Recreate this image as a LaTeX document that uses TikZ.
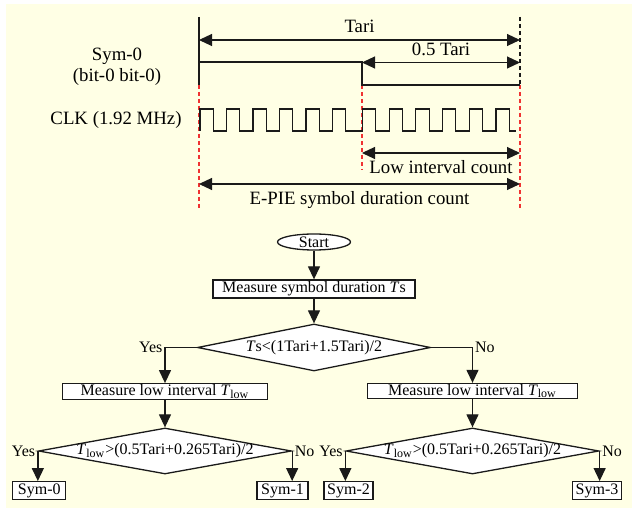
\documentclass[tikz,border=0pt]{standalone}
\usepackage{fontspec}
\setmainfont{Liberation Serif}
\usetikzlibrary{arrows.meta,shapes.geometric}
\definecolor{Cream}{HTML}{FFFFE5}
\definecolor{Guide}{HTML}{F03232}
\definecolor{Ink}{HTML}{1A1A1A}

\begin{document}
\begin{tikzpicture}[x=0.5pt,y=-0.5pt,
  >={Triangle[length=6.5pt,width=6pt]},
  sig/.style={draw=Ink,line width=0.55pt},
  dim/.style={draw=Ink,line width=0.55pt,<->},
  guide/.style={draw=Guide,line width=0.55pt,dash pattern=on 2pt off 1.5pt},
  lbl/.style={font=\fontsize{9.4pt}{11pt}\selectfont},
  box/.style={draw=Ink,fill=white,line width=0.65pt,inner sep=0pt,font=\fontsize{8pt}{9.6pt}\selectfont},
  term/.style={box,ellipse},
  decision/.style={box,diamond},
  flow/.style={draw=Ink,line width=0.65pt,->},
  ans/.style={font=\fontsize{8pt}{9.6pt}\selectfont,inner sep=1pt}
]
\fill[white] (0,0) rectangle (632,512);
\fill[Cream] (6,4) rectangle (632,508);
\useasboundingbox (0,0) rectangle (632,512);

% timing
\node[lbl] (symlbl) at (117,56) {Sym-0};
\node[lbl] (bitlbl) at (117,77) {(bit-0 bit-0)};
\node[lbl] (clklbl) at (116,120) {CLK (1.92 MHz)};
\coordinate (topL) at (199,17);
\coordinate (midL) at (199,85);
\coordinate (botL) at (199,208);
\coordinate (topR) at (520,17);
\coordinate (midR) at (520,85);
\coordinate (botR) at (520,208);
\coordinate (midM) at (362,85);
\coordinate (botM) at (362,170);
\draw[sig] (topL) -- (midL);
\draw[sig,dash pattern=on 2pt off 1.5pt] (topR) -- (midR);
\draw[guide] (midL) -- (botL);
\draw[guide] (midR) -- (botR);
\draw[guide] (midM) -- (botM);
\draw[sig] (199,62) -- (362,62) -- (midM) -- (midR);
\draw[sig] (200,131) \foreach \x in {200,226.5,253,279.5,306,332.5,362.5,389.2,415.9,442.6,469.3,496} {
  -- (\x,131) -- (\x,109) -- (\x+13.3,109) -- (\x+13.3,131) } -- (516,131);
\draw[dim] (199,40) -- node[lbl,above] (tari) {Tari} (520,40);
\draw[dim] (362,62.5) -- node[lbl,above] (half) {0.5 Tari} (520,62.5);
\draw[dim] (362,153) -- node[lbl,below] (lowcnt) {Low interval count} (520,153);
\draw[dim] (199,184) -- node[lbl,below] (symcnt) {E-PIE symbol duration count} (520,184);

% flow chart
\node[term,minimum width=36.5pt,minimum height=8pt] (start) at (314,242) {Start};
\node[box,minimum width=101pt,minimum height=9pt] (measTs) at (314,289) {Measure symbol duration \textit{T}s};
\node[decision,minimum width=116.5pt,minimum height=23.5pt,
  label={[ans]center:{\textit{T}s<(1Tari+1.5Tari)/2}}] (decTs) at (314,347.5) {};
\node[box,minimum width=102.5pt,minimum height=7.75pt] (measL) at (165,391.5) {Measure low interval \textit{T}\textsubscript{low}};
\node[box,minimum width=105pt,minimum height=7.5pt] (measR) at (472.5,391) {Measure low interval \textit{T}\textsubscript{low}};
\node[decision,minimum width=126.5pt,minimum height=23pt,
  label={[ans]center:{\textit{T}\textsubscript{low}>(0.5Tari+0.265Tari)/2}}] (decL) at (165,451) {};
\node[decision,minimum width=126.5pt,minimum height=23pt,
  label={[ans]center:{\textit{T}\textsubscript{low}>(0.5Tari+0.265Tari)/2}}] (decR) at (472.5,451) {};
\node[box,minimum width=26.5pt,minimum height=8.8pt] (sym0) at (39.3,490.5) {Sym-0};
\node[box,minimum width=25.5pt,minimum height=8.8pt] (sym1) at (282.5,490.5) {Sym-1};
\node[box,minimum width=24.5pt,minimum height=8.8pt] (sym2) at (348.5,490.5) {Sym-2};
\node[box,minimum width=24.5pt,minimum height=8.8pt] (sym3) at (597,490.5) {Sym-3};

\draw[flow] (start) -- (measTs);
\draw[flow] (measTs) -- (decTs);
\draw[flow] (decTs.west) -| node[ans,pos=0.5,left] (yes1) {Yes} (measL.north);
\draw[flow] (decTs.east) -| node[ans,pos=0.5,right] (no1) {No} (measR.north);
\draw[flow] (measL) -- (decL);
\draw[flow] (measR) -- (decR);
\draw[flow] (decL.west) node[ans,left] (yes2) {Yes} -- (decL.west |- sym0.north);
\draw[flow] (decL.east) node[ans,right] (no2) {No} -- (decL.east |- sym1.north);
\draw[flow] (decR.west) node[ans,left] (yes3) {Yes} -- (decR.west |- sym2.north);
\draw[flow] (decR.east) node[ans,right] (no3) {No} -- (decR.east |- sym3.north);
\end{tikzpicture}
\end{document}
